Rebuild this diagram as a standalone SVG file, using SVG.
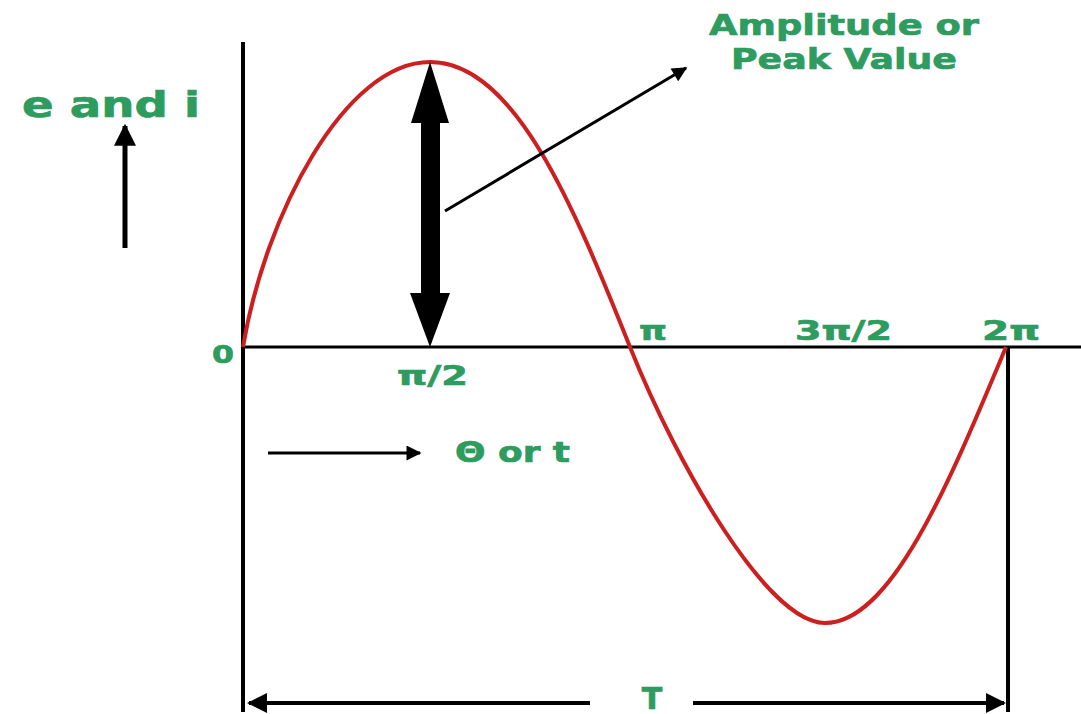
<svg xmlns="http://www.w3.org/2000/svg" width="1081" height="714" viewBox="0 0 1081 714">
<style>
.lbl{font-family:"DejaVu Sans","Verdana",sans-serif;font-weight:bold;fill:#2e9b5f;stroke:#2e9b5f;stroke-width:0.7}
.ax{stroke:#000;fill:none}
</style>
<defs>
<marker id="ah" viewBox="0 0 10 10" refX="9" refY="5" markerWidth="7" markerHeight="5" markerUnits="strokeWidth" orient="auto-start-reverse">
<path d="M0,0 L10,5 L0,10 Z" fill="#000"/>
</marker>
<marker id="ahs" viewBox="0 0 10 10" refX="9" refY="5" markerWidth="5" markerHeight="4.4" markerUnits="strokeWidth" orient="auto-start-reverse">
<path d="M0,0 L10,5 L0,10 Z" fill="#000"/>
</marker>
</defs>
<rect width="1081" height="714" fill="#fff"/>
<g id="axes">
<line class="ax" x1="243" y1="42" x2="243" y2="712" stroke-width="4"/>
<line class="ax" x1="243" y1="347" x2="1081" y2="347" stroke-width="3"/>
<line class="ax" x1="1008" y1="347" x2="1008" y2="712" stroke-width="4"/>
</g>
<g id="wave">
<path d="M243,347 C265,215 345,62 430,62 C515,62 574,207 630,347 C678,467 768,623 825,623 C890.5,623 947,488.5 1006,347" fill="none" stroke="#cc1f1f" stroke-width="4"/>
</g>
<g id="connectors">
<line x1="125" y1="248" x2="125" y2="126" stroke="#000" stroke-width="5" marker-end="url(#ahs)"/>
<line x1="445" y1="211" x2="686" y2="68" stroke="#000" stroke-width="3" marker-end="url(#ah)"/>
<line x1="268" y1="453" x2="420" y2="453" stroke="#000" stroke-width="3" marker-end="url(#ah)"/>
<line x1="590" y1="703" x2="249" y2="703" stroke="#000" stroke-width="4" marker-end="url(#ah)"/>
<line x1="693" y1="703" x2="1004" y2="703" stroke="#000" stroke-width="4" marker-end="url(#ah)"/>
<g id="amplitude-arrow">
<rect x="421" y="118" width="19" height="180" fill="#000"/>
<polygon points="430,62 411,123 449,123" fill="#000"/>
<polygon points="430,347 410,293 450,293" fill="#000"/>
</g>
</g>
<g id="label-ei"><text class="lbl" x="22" y="117" font-size="35" textLength="178" lengthAdjust="spacingAndGlyphs">e and i</text></g>
<g id="label-amp">
<text class="lbl" x="709" y="35" font-size="29" textLength="270" lengthAdjust="spacingAndGlyphs">Amplitude or</text>
<text class="lbl" x="731" y="69" font-size="29" textLength="226" lengthAdjust="spacingAndGlyphs">Peak Value</text>
</g>
<g id="label-0"><text class="lbl" x="212" y="363" font-size="25" textLength="22" lengthAdjust="spacingAndGlyphs">0</text></g>
<g id="label-pi2"><text class="lbl" x="397" y="385" font-size="27" textLength="71" lengthAdjust="spacingAndGlyphs">π/2</text></g>
<g id="label-pi"><text class="lbl" x="639" y="340" font-size="27" textLength="28" lengthAdjust="spacingAndGlyphs">π</text></g>
<g id="label-3pi2"><text class="lbl" x="795" y="340" font-size="27" textLength="97" lengthAdjust="spacingAndGlyphs">3π/2</text></g>
<g id="label-2pi"><text class="lbl" x="982" y="340" font-size="27" textLength="58" lengthAdjust="spacingAndGlyphs">2π</text></g>
<g id="label-theta"><text class="lbl" x="455" y="462" font-size="29" textLength="115" lengthAdjust="spacingAndGlyphs">Θ or t</text></g>
<g id="label-T"><text class="lbl" x="652" y="709" font-size="30" text-anchor="middle">T</text></g>
</svg>
